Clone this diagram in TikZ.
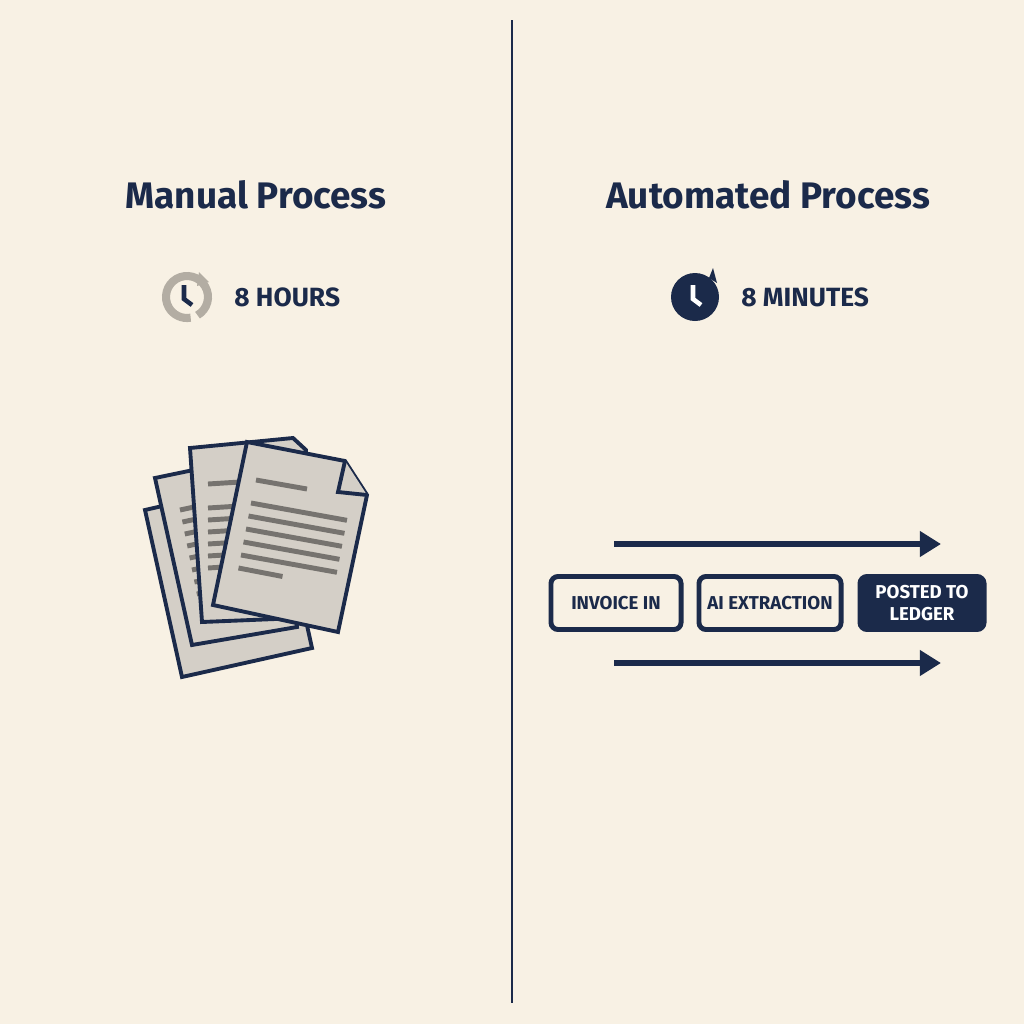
\documentclass[tikz,border=0pt]{standalone}
\usepackage{fontspec}
\setmainfont{Fira Sans}
\usetikzlibrary{arrows.meta}
\definecolor{bgcream}{HTML}{F8F1E4}
\definecolor{navy}{HTML}{1B2A4A}
\definecolor{paper}{HTML}{D4CFC7}
\definecolor{inkgray}{HTML}{76736F}
\definecolor{ringgray}{HTML}{B3ADA3}
\tikzset{
  title/.style={font=\fontsize{10.5}{12}\selectfont\bfseries, text=navy},
  timer/.style={font=\fontsize{7.5}{9}\selectfont\bfseries, text=navy, anchor=west},
  stage/.style={draw=navy, line width=1.4pt, rounded corners=2pt, fill=bgcream,
    font=\fontsize{5.3}{6}\selectfont\bfseries, text=navy, minimum height=0.53cm, align=center, inner sep=1pt},
  sheet/.style={draw=navy, line width=1.1pt, fill=paper, line join=miter},
  textline/.style={inkgray, line width=1.4pt},
  flow/.style={navy, line width=1.8pt, -{Triangle[length=6pt,width=7pt]}}
}
\begin{document}
\begin{tikzpicture}[x=0.01cm, y=-0.01cm]
\fill[bgcream] (0,0) rectangle (1024,1024);
\useasboundingbox (0,0) rectangle (1024,1024);

% Divider
\draw[navy, line width=0.7pt] (512,20) -- (512,1003);

% Titles
\node[title] (manual) at (256,195) {Manual Process};
\node[title] (auto) at (768,195) {Automated Process};

% Clocks
\draw[ringgray, line width=2.3pt] (187,297) ++(60:21) arc (60:-280:21);
\fill[ringgray] (199,272) -- (209,282) -- (197,286) -- cycle;
\draw[navy, line width=1.3pt] (184,285) -- (184,299) -- (192,305);
\node[timer] (hours) at (222,297) {8 HOURS};

\fill[navy] (695,297) circle (24);
\fill[navy] (709,278) -- (713,268) -- (717,283) -- cycle;
\draw[white, line width=1.3pt] (693,285) -- (693,299) -- (701,305);
\node[timer] (minutes) at (729,297) {8 MINUTES};

% Paper stack
\draw[sheet] (145,510) -- (275,480) -- (312,648) -- (182,677) -- cycle;
\draw[sheet] (155,478) -- (280,452) -- (297,627) -- (192,645) -- cycle;
\foreach \y in {0,12,...,84} \draw[textline] (180+\y*0.2,510+\y) -- (194+\y*0.2,507+\y);
\draw[sheet] (190,448) -- (293,438) -- (306,450) -- (300,618) -- (202,622) -- cycle;
\foreach \y in {0,24,36,...,84} \draw[textline] (208,484+\y) -- (240,482+\y);
\draw[sheet] (247,442) -- (345,461) -- (367,495) -- (338,632) -- (213,605) -- cycle;
\draw[sheet] (345,461) -- (338,492) -- (367,495);
\draw[textline] (256,480) -- (307,489);
\foreach \i/\l in {0/96,1/96,2/96,3/96,4/96,5/44}
  \draw[textline] (251-\i*2.5,503+\i*13) -- ++(\l,0.17*\l+1);

% Automated pipeline
\node[stage, minimum width=1.3cm] (invoice) at (616,603) {INVOICE IN};
\node[stage, minimum width=1.42cm] (extract) at (770,603) {AI EXTRACTION};
\node[stage, fill=navy, text=white, minimum width=1.24cm] (ledger) at (922,603) {POSTED TO\\LEDGER};
\coordinate (topstart) at (614,544);
\coordinate (topend) at (941,544);
\coordinate (botstart) at (614,663);
\coordinate (botend) at (941,663);
\draw[flow] (topstart) -- (topend);
\draw[flow] (botstart) -- (botend);
\end{tikzpicture}
\end{document}
